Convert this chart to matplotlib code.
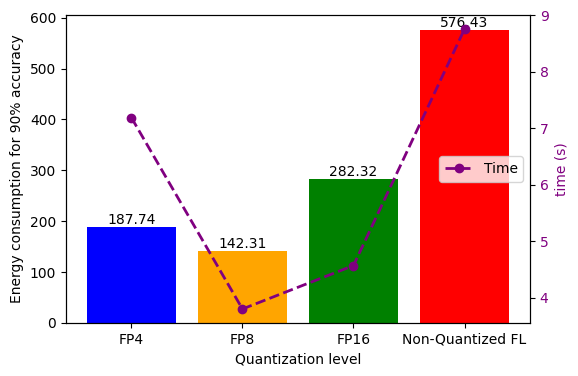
import matplotlib
matplotlib.use("Agg")
import matplotlib.pyplot as plt

levels = ["FP4", "FP8", "FP16", "Non-Quantized FL"]
energy = [187.74, 142.31, 282.32, 576.43]
times = [7.19, 3.80, 4.57, 8.76]
bar_colors = ["blue", "orange", "green", "red"]

fig, ax = plt.subplots(figsize=(5.78, 3.76), dpi=100)
fig.subplots_adjust(left=0.114, right=0.917, top=0.960, bottom=0.141)

bars = ax.bar(levels, energy, color=bar_colors)
for b, v in zip(bars, energy):
    ax.text(b.get_x() + b.get_width() / 2, v, f"{v:.2f}", ha="center", va="bottom")
ax.set_xlabel("Quantization level")
ax.set_ylabel("Energy consumption for 90% accuracy")

ax2 = ax.twinx()
ax2.plot(levels, times, color="purple", linestyle="--", marker="o", linewidth=2, label="Time")
ax2.set_ylabel("time (s)", color="purple")
ax2.tick_params(axis="y", labelcolor="purple")
ax2.legend(loc="center right")

fig.savefig("out.png", dpi=100)
